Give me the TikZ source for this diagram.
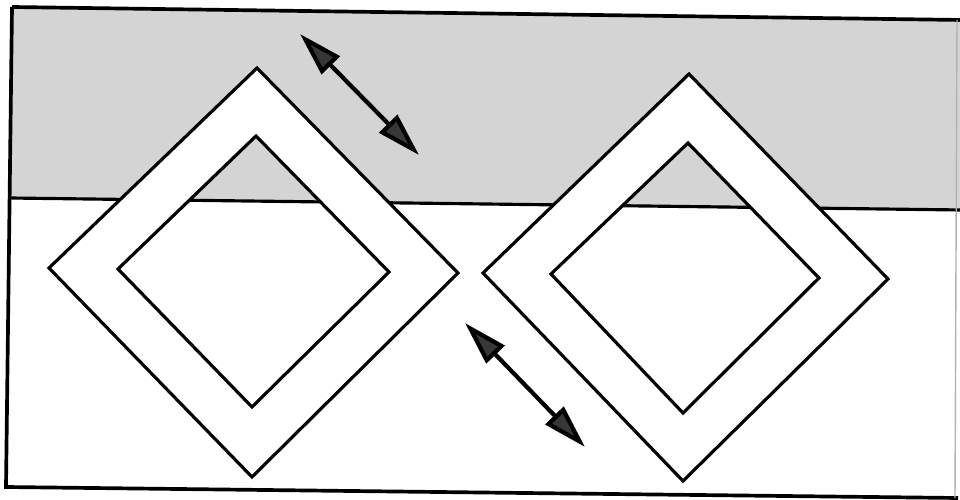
\documentclass[tikz,border=0pt]{standalone}
\usetikzlibrary{arrows.meta}
\definecolor{bandgray}{RGB}{212,212,212}
\definecolor{headgray}{RGB}{55,55,55}
\tikzset{
  outline/.style={line width=1.8pt, line join=miter, draw=black},
  ring/.style={outline, fill=white, even odd rule},
  dblarrow/.style={line width=2.4pt, {Triangle[length=0.88cm,width=0.5cm,fill=headgray]}-{Triangle[length=0.88cm,width=0.5cm,fill=headgray]}},
}
\begin{document}
\begin{tikzpicture}[x=0.02cm,y=-0.02cm]
\useasboundingbox (0,0) rectangle (960,500);
% frame corners and divider ends
\coordinate (TL) at (12,7);
\coordinate (TR) at (962,20);
\coordinate (BR) at (958,498);
\coordinate (BL) at (6,487);
\coordinate (DL) at (10,198);
\coordinate (DR) at (962,210);
% shaded upper band
\fill[bandgray] (TL) -- (TR) -- (DR) -- (DL) -- cycle;
\draw[outline] (DL) -- (DR);
% left diamond
\coordinate (LoT) at (257,68);  \coordinate (LoL) at (49,268);
\coordinate (LoB) at (252,477); \coordinate (LoR) at (458,273);
\coordinate (LiT) at (256,136); \coordinate (LiL) at (118,269);
\coordinate (LiB) at (252,407); \coordinate (LiR) at (389,272);
\path[ring] (LoT) -- (LoL) -- (LoB) -- (LoR) -- cycle
            (LiT) -- (LiL) -- (LiB) -- (LiR) -- cycle;
% right diamond
\coordinate (RoT) at (689,74);  \coordinate (RoL) at (483,273);
\coordinate (RoB) at (683,481); \coordinate (RoR) at (888,279);
\coordinate (RiT) at (688,143); \coordinate (RiL) at (551,274);
\coordinate (RiB) at (683,413); \coordinate (RiR) at (819,278);
\path[ring] (RoT) -- (RoL) -- (RoB) -- (RoR) -- cycle
            (RiT) -- (RiL) -- (RiB) -- (RiR) -- cycle;
% frame
\draw[line width=2.1pt, line join=miter] (TL) -- (TR) (BR) -- (BL) -- (TL);
\draw[line width=0.8pt, black!30] (957,20) -- (955,498);
% arrows
\coordinate (A1) at (300,34);  \coordinate (A2) at (419,155);
\coordinate (B1) at (465,323); \coordinate (B2) at (585,447);
\draw[dblarrow] (A1) -- (A2);
\draw[dblarrow] (B1) -- (B2);
\end{tikzpicture}
\end{document}
